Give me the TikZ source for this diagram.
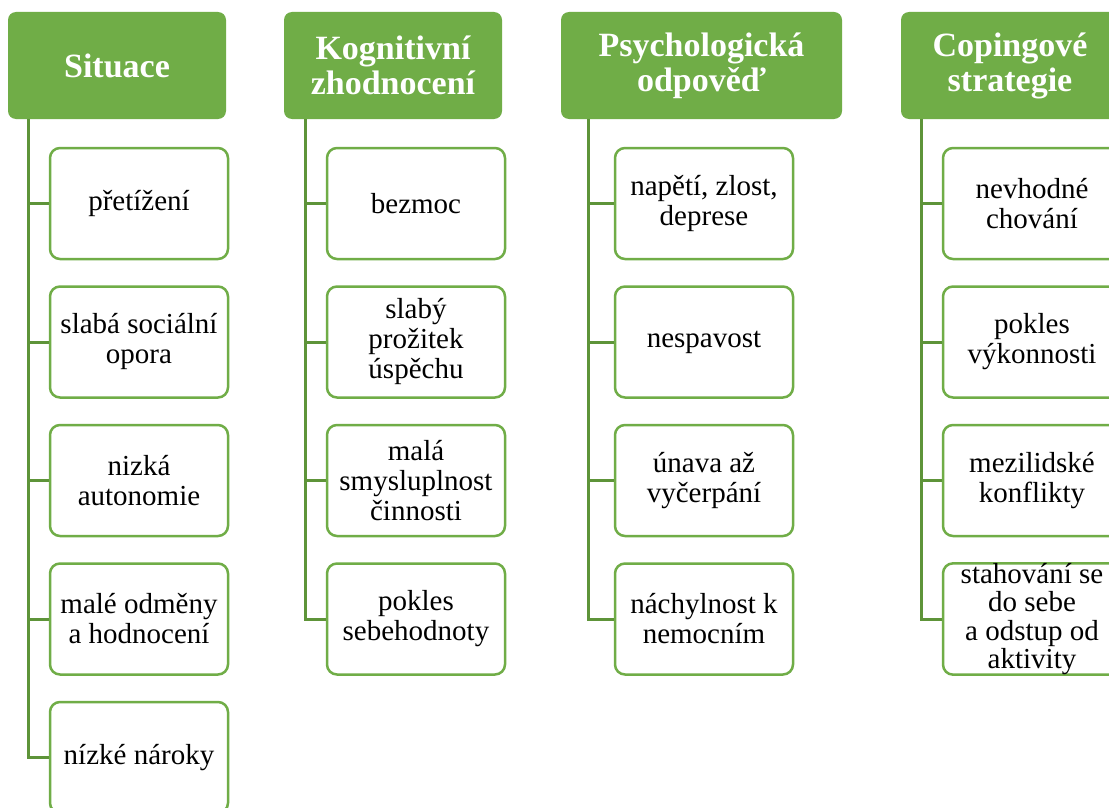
\documentclass[tikz,border=0pt]{standalone}
\usepackage{fontspec}
\setmainfont{Liberation Serif}
\definecolor{hgreen}{HTML}{70AD47}
\definecolor{kgreen}{HTML}{70AD47}
\definecolor{lgreen}{HTML}{5E9439}
\tikzset{
  headbox/.style={fill=hgreen, rounded corners=8pt, text=white, align=center,
    font=\bfseries\fontsize{34}{35}\selectfont, minimum height=107pt, inner sep=0pt},
  kidbox/.style={draw=kgreen, line width=2.5pt, fill=white, rounded corners=10pt,
    align=center, font=\fontsize{29}{30}\selectfont, minimum width=178pt,
    minimum height=111pt, inner sep=0pt},
  link/.style={draw=lgreen, line width=3pt}
}
\begin{document}
\begin{tikzpicture}[x=1pt,y=-1pt]
\path[use as bounding box, fill=white] (0,0) rectangle (1109,808);
\clip (0,0) rectangle (1109,808);
% headers
\node[headbox, minimum width=218pt] (h1) at (117,65.5) {Situace};
\node[headbox, minimum width=218pt] (h2) at (393,65.5) {Kognitivní\\zhodnocení};
\node[headbox, minimum width=281pt] (h3) at (701.5,65.5) {Psychologická\\odpověď};
\node[headbox, minimum width=218pt] (h4) at (1010,65.5) {Copingové\\strategie};
% trunk start points
\coordinate (v1) at (28,119);
\coordinate (v2) at (305,119);
\coordinate (v3) at (588,119);
\coordinate (v4) at (921,119);
% column 1
\node[kidbox] (a1) at (139,203.5) {přetížení};
\node[kidbox] (a2) at (139,342) {slabá sociální\\opora};
\node[kidbox] (a3) at (139,480.5) {nizká\\autonomie};
\node[kidbox] (a4) at (139,619) {malé odměny\\a hodnocení};
\node[kidbox] (a5) at (139,757.5) {nízké nároky};
% column 2
\node[kidbox] (b1) at (416,203.5) {bezmoc};
\node[kidbox] (b2) at (416,342) {slabý\\prožitek\\úspěchu};
\node[kidbox] (b3) at (416,480.5) {malá\\smysluplnost\\činnosti};
\node[kidbox] (b4) at (416,619) {pokles\\sebehodnoty};
% column 3
\node[kidbox] (c1) at (704,203.5) {napětí, zlost,\\deprese};
\node[kidbox] (c2) at (704,342) {nespavost};
\node[kidbox] (c3) at (704,480.5) {únava až\\vyčerpání};
\node[kidbox] (c4) at (704,619) {náchylnost k\\nemocním};
% column 4
\node[kidbox] (d1) at (1032,203.5) {nevhodné\\chování};
\node[kidbox] (d2) at (1032,342) {pokles\\výkonnosti};
\node[kidbox] (d3) at (1032,480.5) {mezilidské\\konflikty};
\node[kidbox, font=\fontsize{29}{28.3}\selectfont] (d4) at (1032,619) {stahování se\\do sebe\\a odstup od\\aktivity};
% connectors
\draw[link] (v1) |- (a5.west);
\foreach \k in {a1,a2,a3,a4} \draw[link] (v1 |- \k.west) -- (\k.west);
\draw[link] (v2) |- (b4.west);
\foreach \k in {b1,b2,b3} \draw[link] (v2 |- \k.west) -- (\k.west);
\draw[link] (v3) |- (c4.west);
\foreach \k in {c1,c2,c3} \draw[link] (v3 |- \k.west) -- (\k.west);
\draw[link] (v4) |- (d4.west);
\foreach \k in {d1,d2,d3} \draw[link] (v4 |- \k.west) -- (\k.west);
\end{tikzpicture}
\end{document}
